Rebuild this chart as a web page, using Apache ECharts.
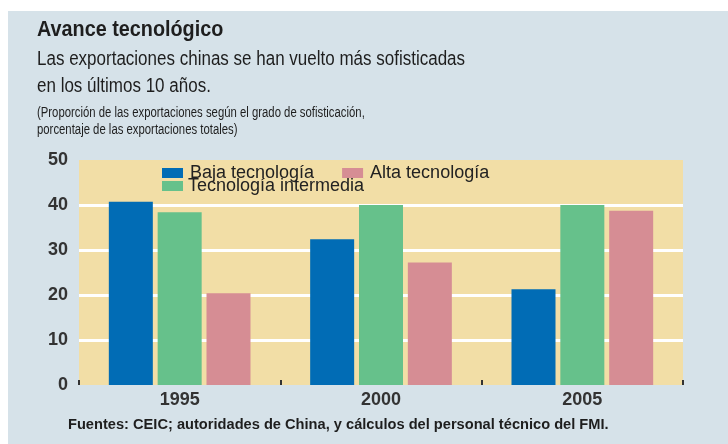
<!DOCTYPE html>
<html>
<head>
<meta charset="utf-8">
<script src="https://cdn.jsdelivr.net/npm/echarts@6/dist/echarts.min.js"></script>
<style>
  html, body { margin: 0; padding: 0; background: #ffffff; }
  #avance_chart { position: absolute; left: 8px; top: 11px; width: 720px; height: 433px; }
</style>
</head>
<body>
<div id="avance_chart"></div>
<script>
// datos
var years = ['1995', '2000', '2005'];
var baja = [40.7, 32.4, 21.3];
var intermedia = [38.4, 40.0, 40.0];
var alta = [20.4, 27.2, 38.7];

var sans = "'Liberation Sans', Arial, sans-serif";

// texto condensado (no hay fuente estrecha instalada)
function label(txt, x, y, font, sx) {
  return {
    type: 'text', x: x, y: y, scaleX: sx, silent: true,
    style: { text: txt, font: font, fill: '#1e1e1e', textVerticalAlign: 'top' }
  };
}

var chart = echarts.init(document.getElementById('avance_chart'));
var option = {
  backgroundColor: '#d6e2e9',
  animation: false,
  graphic: [
    label('Avance tecnológico', 29, 8, 'bold 22px ' + sans, 0.9),
    label('Las exportaciones chinas se han vuelto más sofisticadas', 29, 38, '20px ' + sans, 0.85),
    label('en los últimos 10 años.', 29, 65, '20px ' + sans, 0.85),
    label('(Proporción de las exportaciones según el grado de sofisticación,', 29, 95, '14px ' + sans, 0.81),
    label('porcentaje de las exportaciones totales)', 29, 112, '14px ' + sans, 0.81),
    label('Fuentes: CEIC; autoridades de China, y cálculos del personal técnico del FMI.', 60, 407, 'bold 14px ' + sans, 1.045)
  ],
  legend: [{
    left: 154, top: 153, padding: 0, itemGap: 28,
    itemWidth: 21, itemHeight: 10, icon: 'rect',
    textStyle: { fontSize: 18, fontFamily: sans, color: '#222', padding: [0, 0, 0, 2] },
    data: ['Baja tecnología', 'Alta tecnología']
  }, {
    left: 154, top: 166, padding: 0,
    itemWidth: 21, itemHeight: 10, icon: 'rect',
    textStyle: { fontSize: 18, fontFamily: sans, color: '#222', padding: [0, 0, 0, 0] },
    data: ['Tecnología intermedia']
  }],
  grid: {
    left: 71, top: 149, width: 604, height: 225,
    show: true, backgroundColor: '#f2dea6', borderWidth: 0
  },
  xAxis: {
    type: 'category',
    data: years,
    axisLine: { show: false },
    axisTick: { show: true, inside: true, length: 5, lineStyle: { color: '#333', width: 2 } },
    axisLabel: { fontSize: 18, fontWeight: 'bold', fontFamily: sans, color: '#333', margin: 6 }
  },
  yAxis: {
    type: 'value',
    min: 0, max: 50, interval: 10,
    axisLine: { show: false },
    axisTick: { show: false },
    axisLabel: { fontSize: 18, fontWeight: 'bold', fontFamily: sans, color: '#333', margin: 11 },
    splitLine: { show: true, showMinLine: false, showMaxLine: false, lineStyle: { color: '#ffffff', width: 3 } }
  },
  series: [{
    name: 'Baja tecnología', type: 'bar', data: baja,
    barWidth: 44, barGap: '11%',
    itemStyle: { color: '#016cb5' }
  }, {
    name: 'Tecnología intermedia', type: 'bar', data: intermedia,
    barWidth: 44, barGap: '11%',
    itemStyle: { color: '#66c18b' }
  }, {
    name: 'Alta tecnología', type: 'bar', data: alta,
    barWidth: 44, barGap: '11%',
    itemStyle: { color: '#d68d94' }
  }]
};
chart.setOption(option);
</script>
</body>
</html>
